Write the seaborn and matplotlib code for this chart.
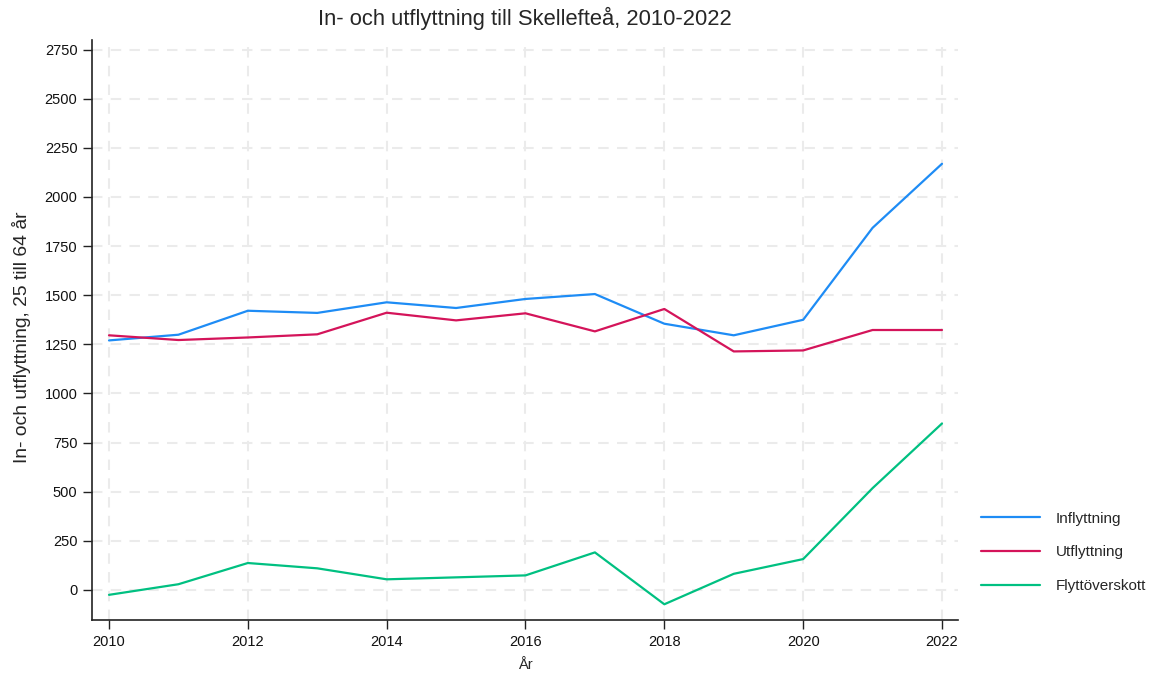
import matplotlib
matplotlib.use('Agg')
import matplotlib.pyplot as plt
import seaborn as sns
import pandas as pd

# data
years = list(range(2010, 2023))
inflyttning = [1270, 1299, 1421, 1410, 1464, 1435, 1481, 1506, 1355, 1296, 1375, 1843, 2169]
utflyttning = [1296, 1272, 1285, 1301, 1411, 1372, 1408, 1316, 1430, 1214, 1219, 1323, 1323]
flyttoverskott = [-25, 29, 137, 110, 54, 64, 74, 191, -73, 82, 157, 518, 847]

series_names = ['Inflyttning', 'Utflyttning', 'Flyttöverskott']
colors = ['#1e8cf5', '#d4145a', '#00c081']
y_ticks = list(range(0, 2751, 250))
x_ticks = list(range(2010, 2023, 2))

# long format for seaborn
df = pd.DataFrame({
    'year': years * 3,
    'value': inflyttning + utflyttning + flyttoverskott,
    'series': [s for s in series_names for _ in years],
})

sns.set_style('white')
plt.rcParams['font.family'] = ['Liberation Sans', 'DejaVu Sans']

fig = plt.figure(figsize=(11.5, 6.75), dpi=100)
ax = fig.add_axes([0.08, 0.0815, 0.753, 0.8595])

sns.lineplot(data=df, x='year', y='value', hue='series', hue_order=series_names,
             palette=colors, linewidth=1.6, ax=ax)

ax.set_xlim(2009.755, 2022.23)
ax.set_ylim(-153, 2800)
ax.set_xticks(x_ticks)
ax.set_yticks(y_ticks)

ax.grid(True, linestyle=(0, (5, 4)), color='#ebebeb', linewidth=1.5)
ax.set_axisbelow(True)
for side in ['top', 'right']:
    ax.spines[side].set_visible(False)
for side in ['left', 'bottom']:
    ax.spines[side].set_color('#222222')
    ax.spines[side].set_linewidth(1.2)
ax.tick_params(axis='both', direction='out', length=6.5, width=1, color='#222222',
               labelsize=10.5, labelcolor='#111111', left=True, bottom=True, pad=4)

ax.set_title('In- och utflyttning till Skellefteå, 2010-2022', fontsize=15.8, pad=11)
ax.set_xlabel('År', fontsize=10.5, labelpad=7)
ax.set_ylabel('In- och utflyttning, 25 till 64 år', fontsize=13.9)
ax.yaxis.set_label_coords(-0.070, 0.488)

handles, labels = ax.get_legend_handles_labels()
ax.legend(handles, labels, loc='center left', bbox_to_anchor=(0.8415, 0.1815),
          bbox_transform=fig.transFigure, frameon=False, fontsize=11,
          handlelength=3.8, handletextpad=1.05, labelspacing=1.3)

plt.savefig('out.png', dpi=100)
plt.close()
